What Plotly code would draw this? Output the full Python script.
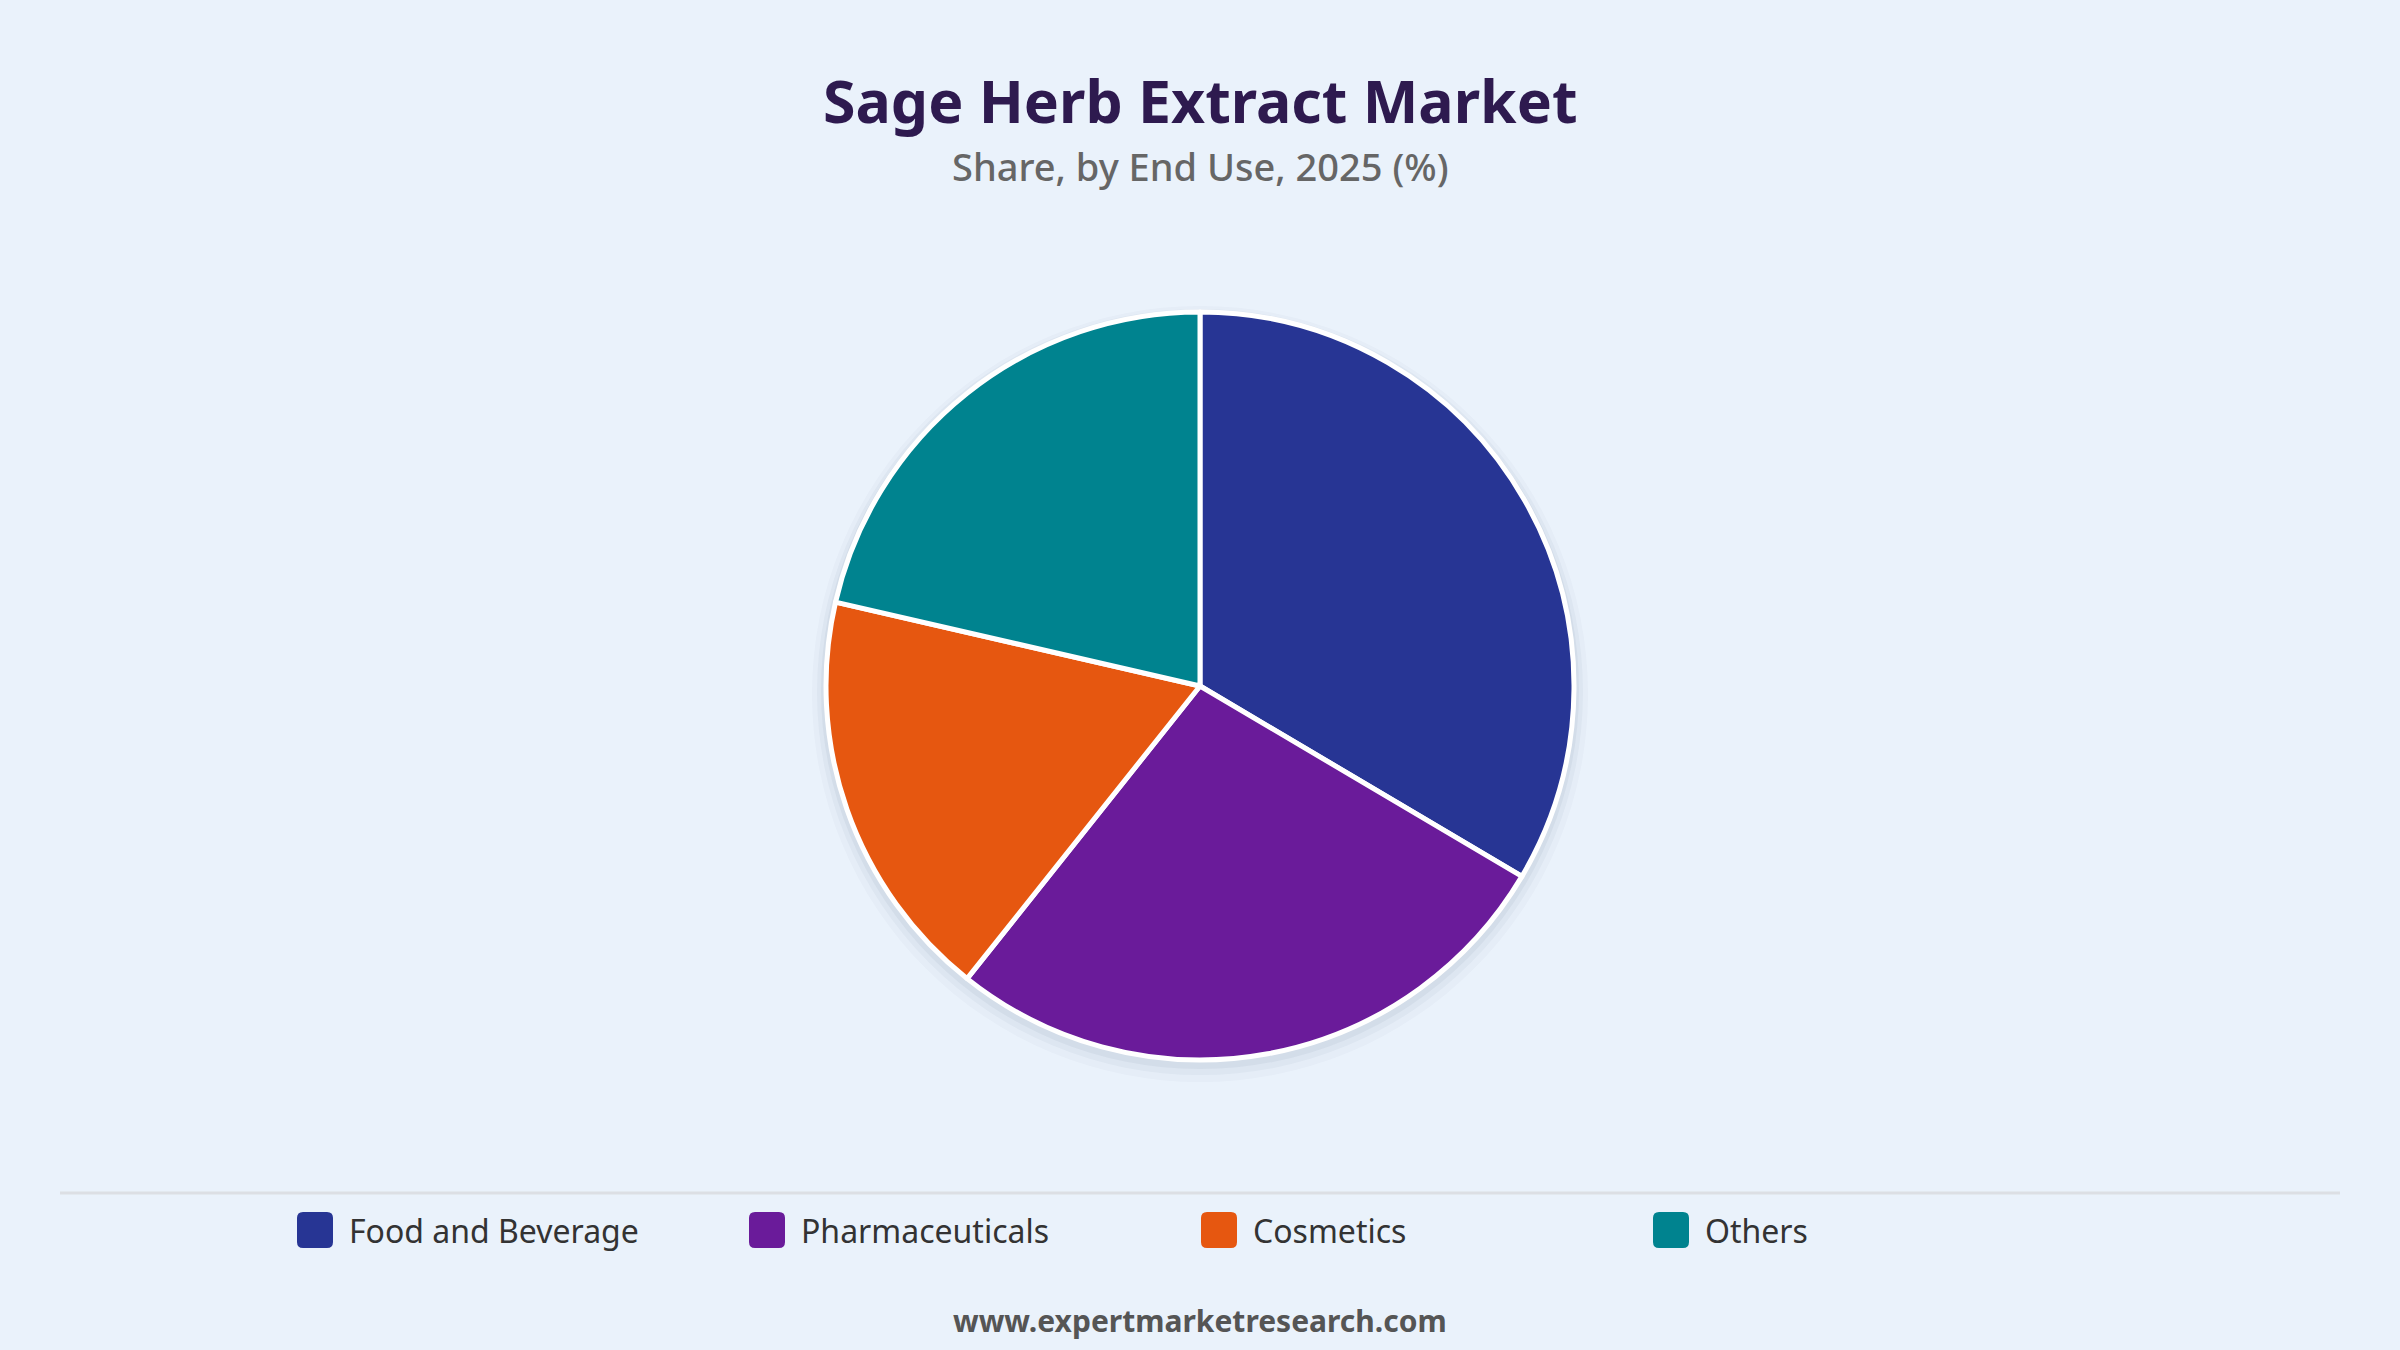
import plotly.graph_objects as go

W, H = 2400, 1350

categories = ["Food and Beverage", "Pharmaceuticals", "Cosmetics", "Others"]
shares = [33.5, 27.2, 17.9, 21.4]
colors = ["#273594", "#6a1b9a", "#e65710", "#00838f"]

BG = "#eaf2fb"
FONT = "Noto Sans"

# pie placement in pixels
CX, CY, R = 1200, 686, 374


def px(x):
    return x / W


def py(y):
    return 1 - y / H


fig = go.Figure()

fig.add_trace(go.Pie(
    labels=categories,
    values=shares,
    marker=dict(colors=colors, line=dict(color="white", width=5)),
    sort=False,
    direction="clockwise",
    rotation=0,
    textinfo="none",
    hovertemplate="%{label}: %{value}%<extra></extra>",
    showlegend=False,
    domain=dict(x=[px(CX - R), px(CX + R)], y=[py(CY + R), py(CY - R)]),
))

shapes = []
# soft shadow under the pie
for grow, dy, alpha in [(14, 8, 0.025), (9, 6, 0.035), (5, 4, 0.05)]:
    shapes.append(dict(
        type="circle", xref="paper", yref="paper", layer="below",
        x0=px(CX - R - grow), x1=px(CX + R + grow),
        y0=py(CY + dy + R + grow), y1=py(CY + dy - R - grow),
        fillcolor=f"rgba(30,50,90,{alpha})", line=dict(width=0),
    ))

# separator line above legend
shapes.append(dict(
    type="line", xref="paper", yref="paper",
    x0=px(60), x1=px(2340), y0=py(1193), y1=py(1193),
    line=dict(color="#dcdfe4", width=3),
))

annotations = [
    dict(text="<b>Sage Herb Extract Market</b>", x=0.5, y=py(100),
         xref="paper", yref="paper", yanchor="middle", showarrow=False,
         font=dict(family=FONT, size=59, color="#2e1a4f")),
    dict(text="Share, by End Use, 2025 (%)", x=0.5, y=py(166),
         xref="paper", yref="paper", yanchor="middle", showarrow=False,
         font=dict(family=FONT, size=38, color="#666666", weight=500)),
    dict(text="<b>www.expertmarketresearch.com</b>", x=0.5, y=py(1320),
         xref="paper", yref="paper", yanchor="middle", showarrow=False,
         font=dict(family=FONT, size=30, color="#555555")),
]

# legend row: swatch + label, fixed slot width
LX0, LY, SLOT, SW, RAD = 297, 1230, 452, 36, 6
for i, (cat, col) in enumerate(zip(categories, colors)):
    x0 = LX0 + i * SLOT
    x1 = x0 + SW
    y0 = LY - SW / 2
    y1 = LY + SW / 2
    path = (
        f"M {px(x0 + RAD)} {py(y0)} L {px(x1 - RAD)} {py(y0)} "
        f"Q {px(x1)} {py(y0)} {px(x1)} {py(y0 + RAD)} "
        f"L {px(x1)} {py(y1 - RAD)} Q {px(x1)} {py(y1)} {px(x1 - RAD)} {py(y1)} "
        f"L {px(x0 + RAD)} {py(y1)} Q {px(x0)} {py(y1)} {px(x0)} {py(y1 - RAD)} "
        f"L {px(x0)} {py(y0 + RAD)} Q {px(x0)} {py(y0)} {px(x0 + RAD)} {py(y0)} Z"
    )
    shapes.append(dict(type="path", xref="paper", yref="paper", path=path,
                       fillcolor=col, line=dict(width=0)))
    annotations.append(dict(
        text=cat, x=px(x1 + 14), y=py(LY), xref="paper", yref="paper",
        xanchor="left", yanchor="middle", showarrow=False,
        font=dict(family=FONT, size=32, color="#333333"),
    ))

fig.update_layout(
    width=W, height=H,
    paper_bgcolor=BG, plot_bgcolor=BG,
    margin=dict(l=0, r=0, t=0, b=0),
    shapes=shapes,
    annotations=annotations,
    showlegend=False,
)

fig.write_html("out.html", config={"displayModeBar": False},
               post_script="document.body.style.margin='0';")
